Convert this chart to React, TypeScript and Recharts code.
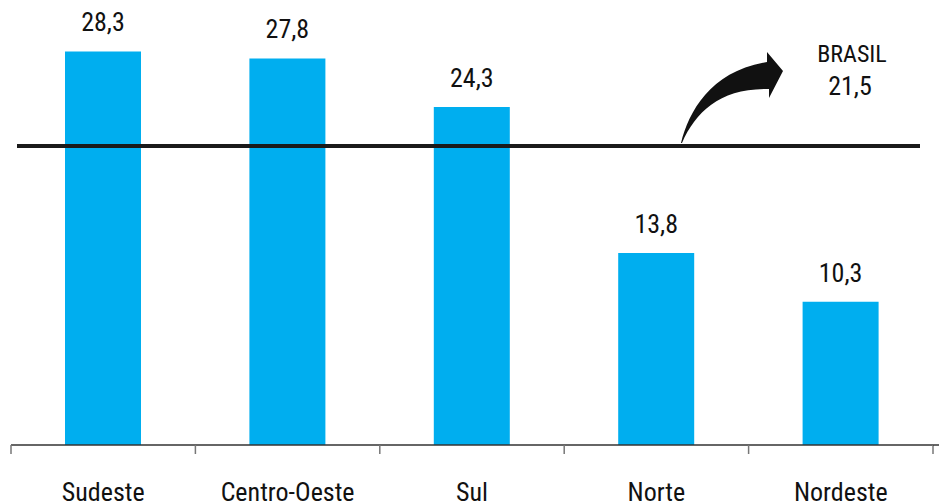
import React from "react";
import { BarChart, Bar, XAxis, YAxis, ReferenceLine, LabelList } from "recharts";

const regions = ["Sudeste", "Centro-Oeste", "Sul", "Norte", "Nordeste"];
const values = [28.3, 27.8, 24.3, 13.8, 10.3];
const brasilValue = 21.5;
const brasilLabel = "BRASIL";

const data = regions.map((r, i) => ({ region: r, value: values[i] }));

const W = 939;
const H = 503;
const M = { top: 0, right: 6, bottom: 0, left: 11 };
const BAND = (W - M.left - M.right) / regions.length;
const FONT = "'Liberation Sans Narrow', 'Roboto Condensed', 'DejaVu Sans Condensed', Arial, sans-serif";

const fmt = (v: number) => v.toFixed(1).replace(".", ",");

const CategoryTick = (props: any) => {
  const { x, y, payload, index } = props;
  const half = BAND / 2;
  const last = index === regions.length - 1;
  return (
    <g>
      <line x1={x - half} y1={y - 8} x2={x - half} y2={y + 1} stroke="#777" strokeWidth={1.5} />
      {last && (
        <>
          <line x1={x + half} y1={y - 8} x2={x + half} y2={y + 1} stroke="#777" strokeWidth={1.5} />
          <line x1={x + half} y1={y - 8} x2={W} y2={y - 8} stroke="#333" strokeWidth={1.5} />
        </>
      )}
      <text x={x} y={y + 48} textAnchor="middle" fontFamily={FONT} fontSize={26} fill="#111">
        {payload.value}
      </text>
    </g>
  );
};

const ValueLabel = (props: any) => {
  const { x, y, width, value } = props;
  return (
    <text x={x + width / 2} y={y - 20} textAnchor="middle" fontFamily={FONT} fontSize={26} fill="#111">
      {fmt(value)}
    </text>
  );
};

const BrasilLine = (props: any) => {
  const { x1, x2, y1 } = props;
  const y = y1;
  const ox = x1; // plot left
  const bx = ox + 670;
  const by = y;
  const p = (dx: number, dy: number) => `${bx + dx},${by + dy}`;
  const arrow =
    `M ${p(0, -3)} ` +
    `C ${p(8, -35)} ${p(30, -75)} ${p(86, -84)} ` +
    `L ${p(86, -94)} L ${p(102, -75)} L ${p(88, -48)} L ${p(88, -57)} ` +
    `C ${p(40, -58)} ${p(15, -35)} ${p(1, -3)} Z`;
  return (
    <g>
      <line x1={x1 + 6} y1={y} x2={x2 - 13} y2={y} stroke="#1a1a1a" strokeWidth={4} />
      <path d={arrow} fill="#111" />
      <text x={ox + 841} y={y - 84} textAnchor="middle" fontFamily={FONT} fontSize={24} fill="#111">
        {brasilLabel}
      </text>
      <text x={ox + 839} y={y - 51} textAnchor="middle" fontFamily={FONT} fontSize={26} fill="#111">
        {fmt(brasilValue)}
      </text>
    </g>
  );
};

export default function App() {
  return (
    <div style={{ position: "absolute", left: 0, top: 0, width: W, height: H, background: "#fff" }}>
      <BarChart width={W} height={H} data={data} margin={M} barCategoryGap="59%">
        <XAxis
          dataKey="region"
          height={58}
          interval={0}
          axisLine={{ stroke: "#333", strokeWidth: 1.5 }}
          tickLine={false}
          tick={<CategoryTick />}
        />
        <YAxis hide domain={[0, 32]} type="number" />
        <Bar dataKey="value" fill="#00AEEF" isAnimationActive={false} barSize={76}>
          <LabelList dataKey="value" content={<ValueLabel />} />
        </Bar>
        <ReferenceLine y={brasilValue} shape={<BrasilLine />} ifOverflow="visible" />
      </BarChart>
    </div>
  );
}
